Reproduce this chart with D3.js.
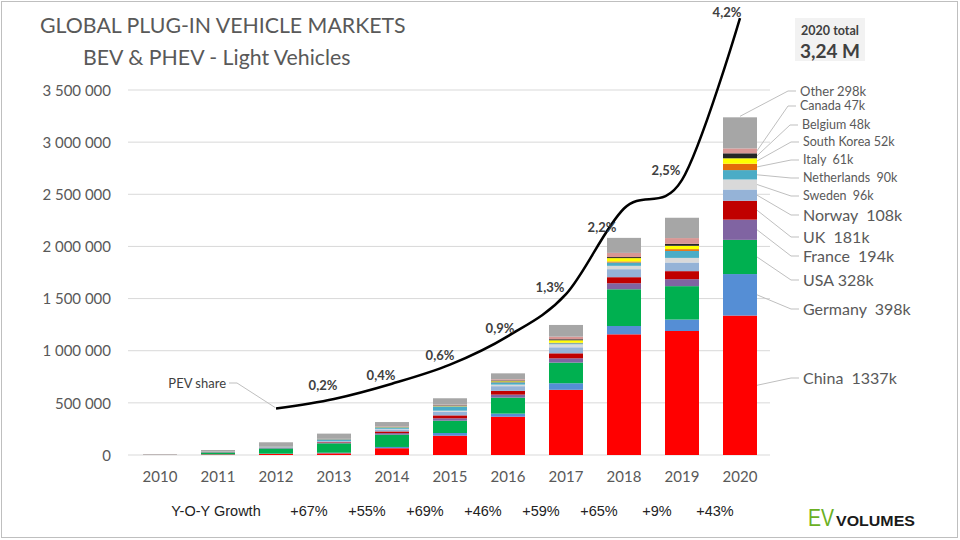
<!DOCTYPE html>
<html><head><meta charset="utf-8">
<script src="https://cdn.jsdelivr.net/npm/d3@7"></script>
<style>body{margin:0;background:#fff} svg{display:block} text{white-space:pre}</style>
</head><body><svg id="c" width="960" height="540"></svg>
<script>
// ---- data (thousands of vehicles) ----
const years = ["2010","2011","2012","2013","2014","2015","2016","2017","2018","2019","2020"];
const countries = ["China","Germany","USA","France","UK","Norway","Sweden","Netherlands","Italy","South Korea","Belgium","Canada","Other"];
const china       = [1, 5, 10, 16, 65, 185, 367, 625, 1157, 1189, 1337];
const germany     = [0.5, 2, 3, 6, 12, 26, 30, 63, 80, 110, 398];
const usa         = [0.5, 17, 50, 90, 118, 118, 153, 198, 352, 320, 328];
const france      = [0.2, 3, 6, 9, 15, 23, 29, 41, 58, 67, 194];
const uk          = [0.2, 1, 2, 4, 16, 28, 36, 48, 58, 77, 181];
const norway      = [0.4, 2, 4, 8, 20, 36, 45, 58, 77, 83, 108];
const sweden      = [0, 0.2, 1, 1.5, 5, 9, 15, 29, 32, 44, 96];
const netherlands = [0.3, 1, 5, 15, 14, 41, 22, 10, 32, 67, 90];
const italy       = [0.1, 0.3, 0.5, 1, 1.5, 2, 4, 5, 10, 17, 61];
const southKorea  = [0.1, 0.3, 0.5, 0.5, 1.5, 3, 6, 23, 32, 32, 52];
const belgium     = [0.1, 0.2, 0.5, 1, 2, 5, 8, 10, 10, 19, 48];
const canada      = [0.1, 0.5, 2, 3, 5, 7, 11, 25, 40, 55, 47];
const other       = [3.5, 15.5, 37.5, 50, 41, 61, 57, 112, 144, 195, 298];
const seriesValues = [china, germany, usa, france, uk, norway, sweden, netherlands, italy, southKorea, belgium, canada, other];

const legendLabels = ["China  1337k","Germany  398k","USA 328k","France  194k","UK  181k","Norway  108k","Sweden  96k","Netherlands  90k","Italy  61k","South Korea 52k","Belgium 48k","Canada 47k","Other 298k"];

const shareYears  = ["2012","2013","2014","2015","2016","2017","2018","2019","2020"];
const shareValues = [0.1, 0.2, 0.36, 0.56, 0.86, 1.3, 2.2, 2.5, 4.2];
const shareLabels = ["", "0,2%", "0,4%", "0,6%", "0,9%", "1,3%", "2,2%", "2,5%", "4,2%"];

const growthLabels = ["+67%","+55%","+69%","+46%","+59%","+65%","+9%","+43%"];
const yTicks = [0, 500, 1000, 1500, 2000, 2500, 3000, 3500];

// ---- styles / layout ----
const colors = ["#FF0000","#558ED5","#00B050","#8064A2","#C00000","#95B3D7","#D9D9D9","#4BACC6","#E46C0A","#FFFF00","#262626","#D99694","#A6A6A6"];
const legendY = [378, 309, 280, 256, 237, 215, 196, 178, 160, 142, 125, 106, 91];
const legendSize = [16,16,16,16,16,16,12.5,12.5,12.5,12.5,12.5,12.5,13];
const legendX = [803,803,803,803,803,803,803,803,803,803,802,800,800];
const shareLabelOffset = [[0,0],[-11,-13],[-11,-8],[-10,-9],[-8,-8],[-16,-7],[-22,19],[-16,-9],[-13,-6]];
const FONT = "Lato, 'Open Sans', sans-serif";
const txt = "#595959";

const svg = d3.select("#c");
svg.append("rect").attr("x",1.5).attr("y",1.5).attr("width",956).attr("height",536)
  .attr("fill","#fff").attr("stroke","#BFBFBF").attr("stroke-width",1);

const x = d3.scaleBand().domain(years).range([131, 769]).paddingInner(0.414).paddingOuter(0.207);
const y = d3.scaleLinear().domain([0, 3500]).range([455, 90]);
const yShare = d3.scaleLinear().domain([0, 4.2]).range([y(355), y(4190)]);

// grid
svg.append("g").selectAll("line").data(yTicks).join("line")
  .attr("x1",128).attr("x2",770).attr("y1",d=>y(d)).attr("y2",d=>y(d))
  .attr("stroke","#D9D9D9").attr("stroke-width",1);

// y axis labels
const fmt = v => d3.format(",")(v*1000).replace(/,/g," ");
const yAxis = d3.axisLeft(y).tickValues(yTicks).tickFormat(fmt).tickSize(0).tickPadding(0);
const ya = svg.append("g").attr("transform","translate(111,0)").call(yAxis);
ya.select(".domain").remove();
ya.selectAll("text").attr("font-family",FONT).attr("font-size",15).attr("fill",txt).attr("dy","0.35em");

// x axis labels
const xAxis = d3.axisBottom(x).tickSize(0).tickPadding(0);
const xa = svg.append("g").attr("transform","translate(0,471)").call(xAxis);
xa.select(".domain").remove();
xa.selectAll("text").attr("font-family",FONT).attr("font-size",15).attr("fill",txt).attr("dy","0.75em");

// stacked bars
const rows = years.map((yr,i)=>{ const r={year:yr}; countries.forEach((c,j)=>r[c]=seriesValues[j][i]); return r; });
const stack = d3.stack().keys(countries)(rows);
svg.append("g").selectAll("g").data(stack).join("g").attr("fill",(d,i)=>colors[i])
  .selectAll("rect").data(d=>d).join("rect")
  .attr("x",d=>x(d.data.year)).attr("width",x.bandwidth())
  .attr("y",d=>y(d[1])).attr("height",d=>Math.max(0,y(d[0])-y(d[1])));

// legend with leaders for 2020
const last = years.length-1;
const bx = x(years[last]), bw = x.bandwidth();
const lg = svg.append("g");
stack.forEach((s,i)=>{
  const seg = s[last];
  const isOther = countries[i]==="Other";
  const sx = isOther ? bx + bw/2 : bx + bw;
  const sy = isOther ? y(seg[1]) - 1 : y((seg[0]+seg[1])/2);
  const tx = legendX[i];
  lg.append("polyline")
    .attr("points",`${sx},${sy} ${tx-12},${legendY[i]} ${tx-4},${legendY[i]}`)
    .attr("fill","none").attr("stroke","#BFBFBF").attr("stroke-width",1);
  lg.append("text").attr("x",tx).attr("y",legendY[i]).attr("dy","0.35em")
    .attr("font-family",FONT).attr("font-size",legendSize[i]).attr("fill",txt)
    .text(legendLabels[i]);
});

// share line
const line = d3.line().x((d,i)=>x(shareYears[i])+bw/2).y(d=>yShare(d)).curve(d3.curveCardinal.tension(0));
svg.append("path").datum(shareValues).attr("d",line).attr("fill","none").attr("stroke","#000").attr("stroke-width",2.5);
svg.append("g").selectAll("text").data(shareValues).join("text")
  .attr("x",(d,i)=>x(shareYears[i])+bw/2+shareLabelOffset[i][0])
  .attr("y",(d,i)=>yShare(d)+shareLabelOffset[i][1]).attr("dy","0.35em")
  .attr("text-anchor","middle").attr("font-family",FONT).attr("font-weight",700)
  .attr("font-size",13).attr("fill","#404040").text((d,i)=>shareLabels[i]);

// PEV share annotation
const p0x = x(shareYears[0])+bw/2, p0y = yShare(shareValues[0]);
svg.append("polyline").attr("points",`${p0x-1},${p0y-1} ${237},${383} ${229},${383}`)
  .attr("fill","none").attr("stroke","#BFBFBF").attr("stroke-width",1);
svg.append("text").attr("x",226).attr("y",383).attr("dy","0.35em").attr("text-anchor","end")
  .attr("font-family",FONT).attr("font-size",13).attr("fill","#404040").text("PEV share");

// titles
svg.append("text").attr("x",40).attr("y",33).attr("font-family",FONT).attr("font-size",21.3).attr("fill",txt)
  .text("GLOBAL PLUG-IN VEHICLE MARKETS");
svg.append("text").attr("x",83).attr("y",65).attr("font-family",FONT).attr("font-size",21.3).attr("fill",txt)
  .text("BEV & PHEV - Light Vehicles");

// total box
svg.append("rect").attr("x",795).attr("y",18).attr("width",70).attr("height",43).attr("fill","#F2F2F2");
svg.append("text").attr("x",830).attr("y",35).attr("text-anchor","middle").attr("font-family",FONT)
  .attr("font-weight",700).attr("font-size",12.5).attr("fill","#404040").text("2020 total");
svg.append("text").attr("x",830).attr("y",58).attr("text-anchor","middle").attr("font-family",FONT)
  .attr("font-weight",700).attr("font-size",19).attr("fill","#404040").text("3,24 M");

// growth row
const GF = "'Liberation Sans', Arial, sans-serif";
svg.append("text").attr("x",216).attr("y",511).attr("dy","0.35em").attr("text-anchor","middle")
  .attr("font-family",GF).attr("font-size",14.5).attr("fill","#222").text("Y-O-Y Growth");
svg.append("g").selectAll("text").data(growthLabels).join("text")
  .attr("x",(d,i)=>(x(years[i+2])+x(years[i+3]))/2+bw/2+4)
  .attr("y",511).attr("dy","0.35em").attr("text-anchor","middle")
  .attr("font-family",GF).attr("font-size",14.5).attr("fill","#222").text(d=>d);

// logo
svg.append("text").attr("x",808).attr("y",526).attr("font-family",GF).attr("font-size",23)
  .attr("fill","#6AB023").attr("textLength",26).attr("lengthAdjust","spacingAndGlyphs").text("EV");
svg.append("text").attr("x",836).attr("y",526).attr("font-family",GF).attr("font-size",15).attr("font-weight",700)
  .attr("fill","#1a1a1a").attr("textLength",79).attr("lengthAdjust","spacingAndGlyphs").text("VOLUMES");
</script></body></html>
